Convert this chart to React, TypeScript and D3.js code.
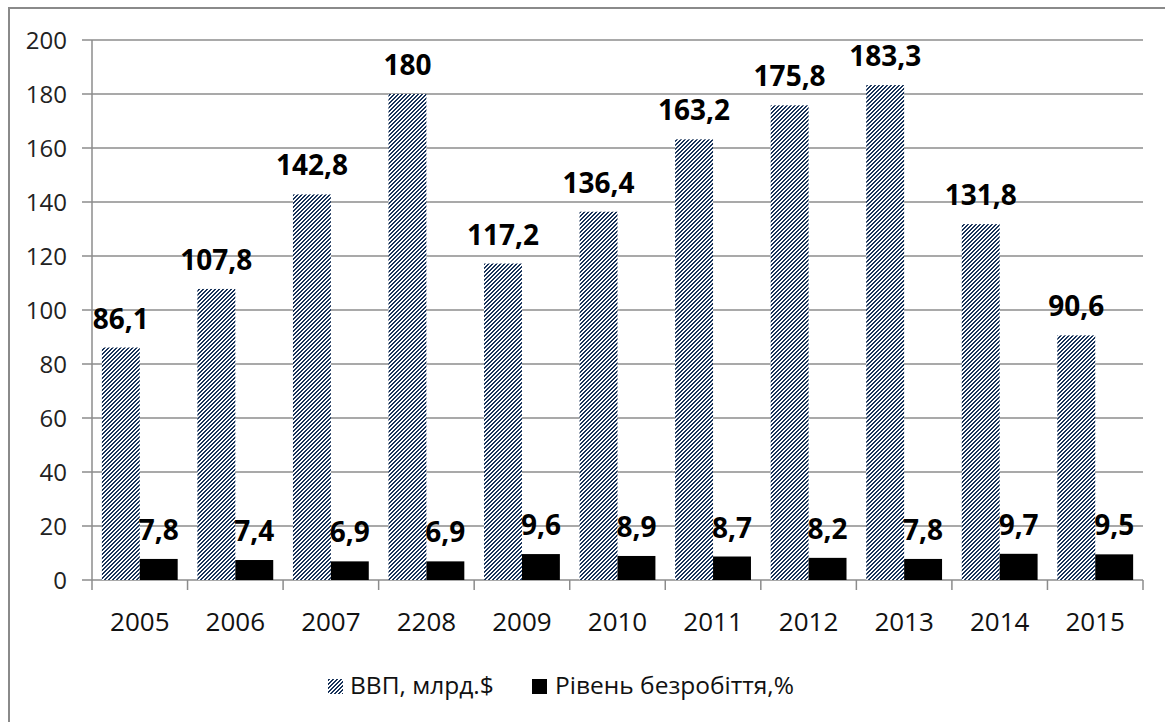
import React from 'react';
import * as d3 from 'd3';

// data
const years = ['2005', '2006', '2007', '2208', '2009', '2010', '2011', '2012', '2013', '2014', '2015'];
const gdp = [86.1, 107.8, 142.8, 180, 117.2, 136.4, 163.2, 175.8, 183.3, 131.8, 90.6];
const unemployment = [7.8, 7.4, 6.9, 6.9, 9.6, 8.9, 8.7, 8.2, 7.8, 9.7, 9.5];
const seriesNames = ['ВВП, млрд.$', 'Рівень безробіття,%'];
const yTicks = [0, 20, 40, 60, 80, 100, 120, 140, 160, 180, 200];

const font = '"Open Sans", "Noto Sans", sans-serif';
const hatchColor = '#18335a';
const gridColor = '#8c8c8c';

// 4x4 pixel hatch, "///" direction, two dark pixels per row
const hatchPixels: [number, number][] = [];
for (let r = 0; r < 4; r++) {
  hatchPixels.push([(3 - r + 4) % 4, r]);
  hatchPixels.push([(4 - r) % 4, r]);
}

const App = () => {
  const width = 1165;
  const height = 722;

  // plot area
  const left = 92;
  const right = 1143;
  const top = 40;
  const bottom = 580;

  const x = d3.scaleBand().domain(years).range([left, right]).padding(0);
  const inner = d3
    .scaleBand()
    .domain(seriesNames)
    .range([0, x.bandwidth()])
    .paddingInner(0)
    .paddingOuter(0.26);
  const y = d3.scaleLinear().domain([0, 200]).range([bottom, top]);

  const fmt = (v: number) => String(v).replace('.', ',');
  const seriesValues = [gdp, unemployment];
  const fills = ['url(#hatch)', '#000'];

  // x tick positions: band boundaries
  const xTickPos = years.map((d) => x(d) as number).concat([right]);

  return (
    <svg
      width={width}
      height={height}
      style={{ position: 'absolute', left: 0, top: 0, background: '#fff' }}
      fontFamily={font}
    >
      <defs>
        <pattern id="hatch" patternUnits="userSpaceOnUse" width="4" height="4">
          <rect width="4" height="4" fill="#fff" />
          {hatchPixels.map(([px, py], i) => (
            <rect key={i} x={px} y={py} width={1} height={1} fill={hatchColor} shapeRendering="crispEdges" />
          ))}
        </pattern>
      </defs>

      {/* outer chart border */}
      <rect x={9} y={8} width={1200} height={760} fill="#fff" stroke="#8a8a8a" strokeWidth={2} />

      {/* gridlines and y ticks */}
      {yTicks.map((t) => (
        <g key={t}>
          <line x1={left - 10} x2={right} y1={y(t)} y2={y(t)} stroke={gridColor} strokeWidth={1.5} />
          <text x={67} y={y(t)} dy="0.355em" textAnchor="end" fontSize={24} fill="#222">
            {t}
          </text>
        </g>
      ))}

      {/* y axis line */}
      <line x1={left} x2={left} y1={top} y2={bottom} stroke={gridColor} strokeWidth={1.5} />

      {/* x ticks */}
      {xTickPos.map((p, i) => (
        <line key={i} x1={p} x2={p} y1={bottom} y2={bottom + 10} stroke={gridColor} strokeWidth={1.5} />
      ))}

      {/* bars */}
      {seriesNames.map((s, si) => (
        <g key={s}>
          {years.map((yr, i) => {
            const v = seriesValues[si][i];
            const bx = (x(yr) as number) + (inner(s) as number);
            return (
              <rect
                key={yr}
                x={bx}
                y={y(v)}
                width={inner.bandwidth()}
                height={bottom - y(v)}
                fill={fills[si]}
              />
            );
          })}
        </g>
      ))}

      {/* data labels */}
      {seriesNames.map((s, si) => (
        <g key={s + '-lab'}>
          {years.map((yr, i) => {
            const v = seriesValues[si][i];
            const cx = (x(yr) as number) + (inner(s) as number) + inner.bandwidth() / 2;
            return (
              <text
                key={yr}
                x={cx}
                y={y(v) - 19}
                textAnchor="middle"
                fontSize={28}
                fontWeight="bold"
                fill="#000"
              >
                {fmt(v)}
              </text>
            );
          })}
        </g>
      ))}

      {/* x labels */}
      {years.map((yr) => (
        <text
          key={yr}
          x={(x(yr) as number) + x.bandwidth() / 2}
          y={631}
          textAnchor="middle"
          fontSize={26}
          fill="#111"
        >
          {yr}
        </text>
      ))}

      {/* legend */}
      <rect x={328} y={679} width={15} height={15} fill="url(#hatch)" />
      <text x={350} y={694} fontSize={24.5} fill="#111">
        {seriesNames[0]}
      </text>
      <rect x={532} y={679} width={15} height={15} fill="#000" />
      <text x={555} y={694} fontSize={24.5} fill="#111">
        {seriesNames[1]}
      </text>
    </svg>
  );
};

export default App;
